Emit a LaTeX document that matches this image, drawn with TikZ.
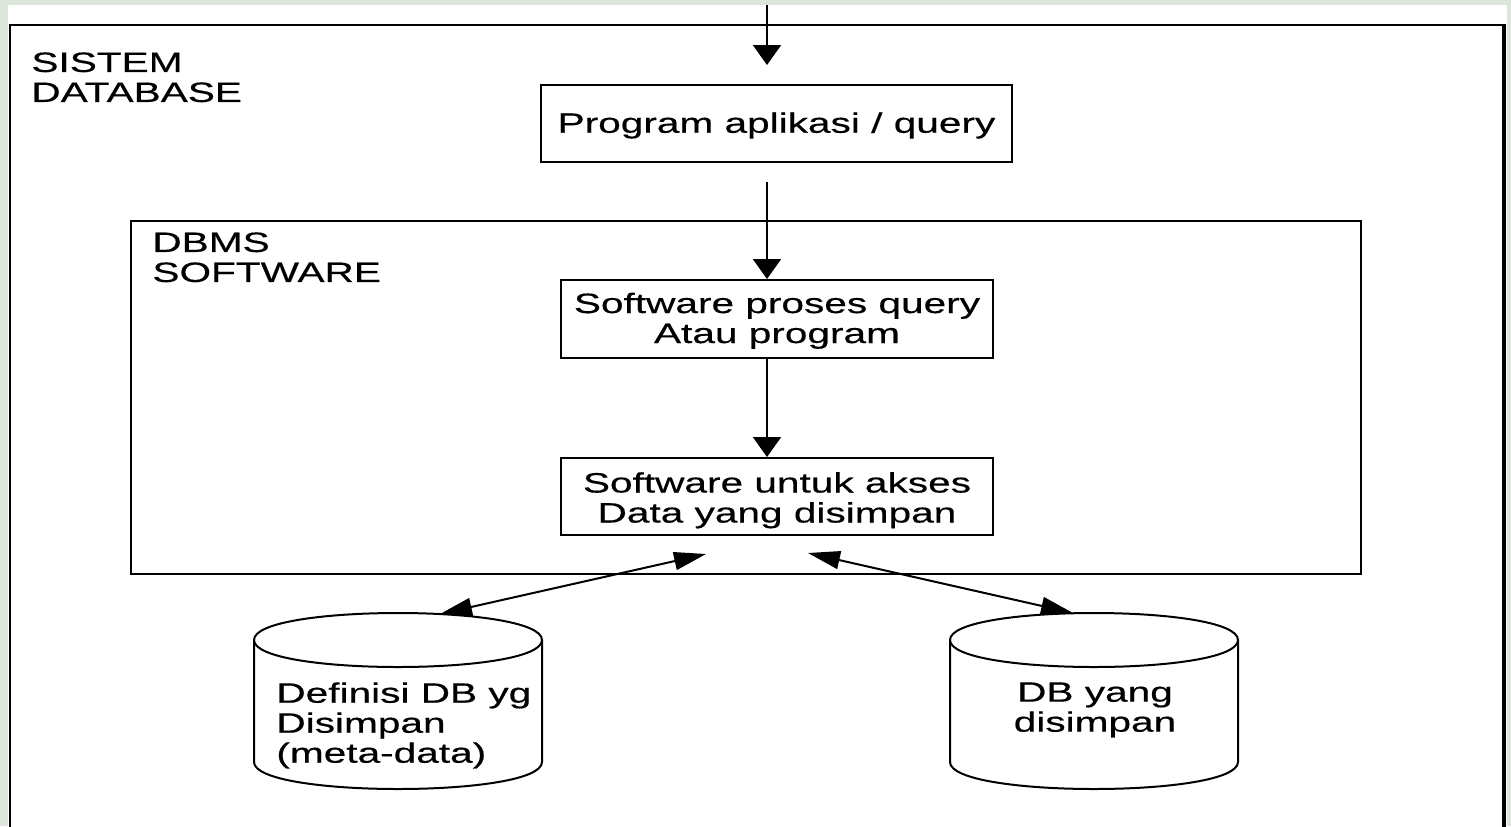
\documentclass[tikz,border=0pt]{standalone}
\usepackage{fontspec}
\setmainfont{Liberation Sans}
\newfontfamily\widefont[FakeStretch=1.45,FakeBold=0.4]{Liberation Sans}
\usetikzlibrary{arrows.meta}
\definecolor{bggreen}{RGB}{220,230,218}
\newcommand\lbl{\widefont\fontsize{14}{15}\selectfont}
\newcommand\twolines[2]{\begin{tabular}{@{}c@{}}#1\\#2\end{tabular}}
\newcommand\lowerby[2]{\raisebox{-#1}[\height][\depth]{#2}}
\tikzset{
  box/.style={draw=black, line width=1pt, fill=white, inner sep=0pt, align=center, font=\lbl},
  frame/.style={draw=black, line width=1pt},
  lbltext/.style={inner sep=0pt, align=left, font=\lbl, anchor=north west},
  cyl/.style={draw=black, line width=1pt, fill=white},
  vtip/.style={line width=1pt, -{Triangle[width=14pt,length=10pt]}},
  dtip/.style={line width=1pt, {Triangle[width=9pt,length=16pt]}-{Triangle[width=9pt,length=16pt]}}
}
\begin{document}
\begin{tikzpicture}[x=0.5pt,y=-0.5pt]
\useasboundingbox (0,0) rectangle (1511,826);
\clip (0,0) rectangle (1511,826);
\fill[bggreen] (0,0) rectangle (1511,826);
\fill[white] (8,5) rectangle (1507,830);
% outer frame (SISTEM DATABASE)
\draw[frame] (10,840) -- (10,25) -- (1503,25);
\draw[line width=2pt] (1504,24) -- (1504,840);
\node[lbltext] (sysl) at (31,52) {SISTEM\\DATABASE};
% DBMS frame
\node[draw=black, line width=1pt, minimum width=615pt, minimum height=176.5pt, inner sep=0pt] (dbms) at (746,397.5) {};
\node[lbltext] (dbmsl) at (152,232) {DBMS\\SOFTWARE};
% boxes
\node[box, minimum width=235.5pt, minimum height=38.5pt] (prog) at (776.5,123.5) {\lowerby{1pt}{Program aplikasi / query}};
\node[box, minimum width=216pt, minimum height=39pt] (proc) at (777,319) {\lowerby{1.5pt}{\twolines{Software proses query}{Atau program}}};
\node[box, minimum width=216pt, minimum height=38.5pt] (acc) at (777,496.5) {\lowerby{2.5pt}{\twolines{Software untuk akses}{Data yang disimpan}}};
% cylinders
\draw[cyl] (254,640) -- (254,762) .. controls (254,798) and (542,798) .. (542,762) -- (542,640);
\draw[cyl] (254,640) .. controls (254,604) and (542,604) .. (542,640) .. controls (542,676) and (254,676) .. (254,640);
\node[lbltext] (defl) at (276,682) {Definisi DB yg\\Disimpan\\(meta-data)};
\draw[cyl] (950,640) -- (950,762) .. controls (950,798) and (1238,798) .. (1238,762) -- (1238,640);
\draw[cyl] (950,640) .. controls (950,604) and (1238,604) .. (1238,640) .. controls (1238,676) and (950,676) .. (950,640);
\node[inner sep=0pt, align=center, font=\lbl, anchor=north] (dbl) at (1095,682) {DB yang\\disimpan};
% connector end points
\coordinate (in) at (767,5);
\coordinate (inend) at (767,65);
\coordinate (pout) at (767,182);
\coordinate (accl) at (706,554);
\coordinate (accr) at (808,553);
\coordinate (cylltop) at (440,614);
\coordinate (cylrtop) at (1073,613);
% connectors
\draw[vtip] (in) -- (inend);
\draw[vtip] (pout) -- (pout |- proc.north);
\draw[vtip] (pout |- proc.south) -- (pout |- acc.north);
\draw[dtip] (cylltop) -- (accl);
\draw[dtip] (accr) -- (cylrtop);
\end{tikzpicture}
\end{document}
